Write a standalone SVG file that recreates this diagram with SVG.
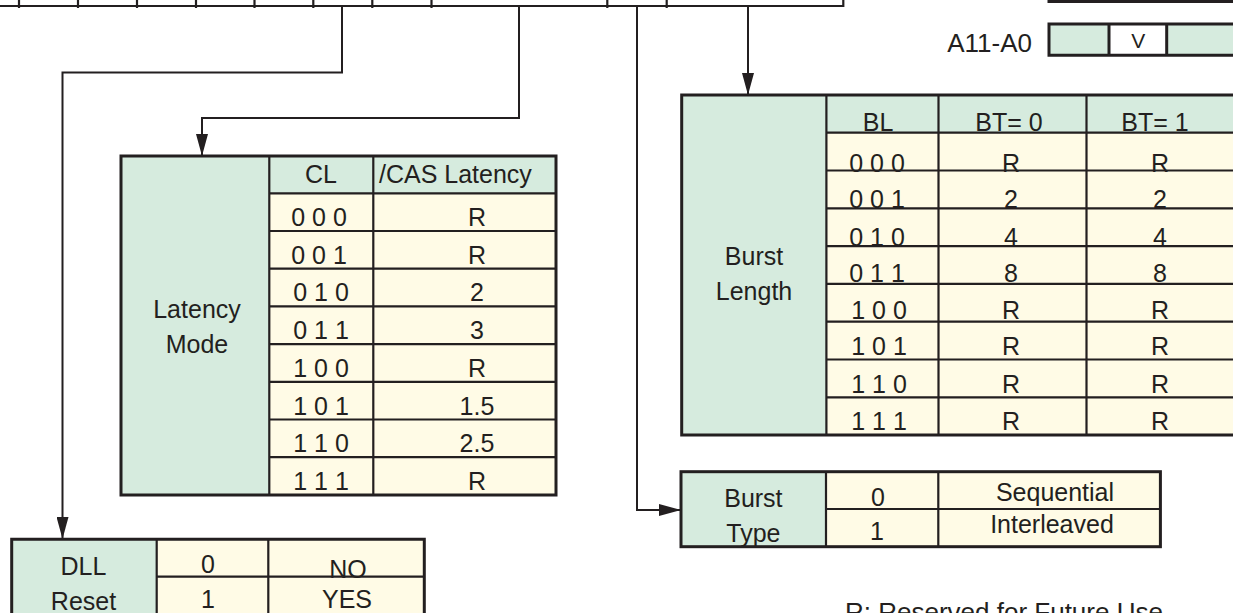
<svg xmlns="http://www.w3.org/2000/svg" width="1233" height="613" viewBox="0 0 1233 613">
<style>
.g{fill:#d6ebde}
.c{fill:#fffbe6}
.w{fill:#ffffff}
.b{fill:none;stroke:#231f20;stroke-width:3}
.l{fill:none;stroke:#231f20;stroke-width:2.2}
.cn{fill:none;stroke:#231f20;stroke-width:2}
text{font-family:"Liberation Sans",Arial,Helvetica,sans-serif;font-size:25px;fill:#231f20}
.m{text-anchor:middle}
</style>
<defs>
<marker id="ah" markerUnits="userSpaceOnUse" markerWidth="22" markerHeight="12" refX="22" refY="6" orient="auto"><path d="M0,0L22,6L0,12z" fill="#231f20"/></marker>
</defs>
<rect x="0" y="0" width="1233" height="613" fill="#ffffff"/>

<g id="register-bar">
<path class="l" d="M0,6H843.3V-3M19,-3V8M78,-3V8M137,-3V8M196,-3V8M254.5,-3V8M313.3,-3V8M372.3,-3V8M431.5,-3V8M607.3,-3V8M666.7,-3V8"/>
</g>

<g id="register-top-right">
<rect class="g" x="1049" y="-30" width="60" height="31.5"/>
<rect class="w" x="1109" y="-30" width="57.7" height="31.5"/>
<rect class="g" x="1166.7" y="-30" width="80" height="31.5"/>
<path class="b" d="M1049,-30V1.5H1250M1109,-30V1.5M1166.7,-30V1.5"/>
</g>

<g id="a11-a0">
<text x="1032" y="52" font-size="26" style="font-size:26px;text-anchor:end">A11-A0</text>
<rect class="g" x="1049" y="24" width="60" height="31.3"/>
<rect class="w" x="1109" y="24" width="57.7" height="31.3"/>
<rect class="g" x="1166.7" y="24" width="80" height="31.3"/>
<path class="b" d="M1250,24H1049V55.3H1250M1109,24V55.3M1166.7,24V55.3"/>
<text class="m" x="1138.3" y="48" style="font-size:21px">V</text>
</g>

<g id="connectors">
<path class="cn" marker-end="url(#ah)" d="M342,6V72.5H62.5V539"/>
<path class="cn" marker-end="url(#ah)" d="M519,6V118H202V156"/>
<path class="cn" marker-end="url(#ah)" d="M637,6V510H681"/>
<path class="cn" marker-end="url(#ah)" d="M748,6V95"/>
</g>

<g id="latency-mode">
<rect class="g" x="121" y="156" width="148.3" height="339"/>
<rect class="g" x="269.3" y="156" width="286.7" height="37.3"/>
<rect class="c" x="269.3" y="193.3" width="286.7" height="301.7"/>
<path class="l" d="M269.3,156V495M373.3,156V495M269.3,193.3H556M269.3,231H556M269.3,268.7H556M269.3,306.4H556M269.3,344.1H556M269.3,381.8H556M269.3,419.5H556M269.3,457.2H556"/>
<rect class="b" x="121" y="156" width="435" height="339"/>
<text class="m" x="197" y="318">Latency</text>
<text class="m" x="197" y="353">Mode</text>
<text class="m" x="321" y="183">CL</text>
<text x="379" y="183">/CAS Latency</text>
<text class="m" x="319" y="226">0 0 0</text><text class="m" x="477" y="226">R</text>
<text class="m" x="319" y="263.7">0 0 1</text><text class="m" x="477" y="263.7">R</text>
<text class="m" x="321" y="301.4">0 1 0</text><text class="m" x="477" y="301.4">2</text>
<text class="m" x="321" y="339.1">0 1 1</text><text class="m" x="477" y="339.1">3</text>
<text class="m" x="321" y="376.8">1 0 0</text><text class="m" x="477" y="376.8">R</text>
<text class="m" x="321" y="414.5">1 0 1</text><text class="m" x="477" y="414.5">1.5</text>
<text class="m" x="321" y="452.2">1 1 0</text><text class="m" x="477" y="452.2">2.5</text>
<text class="m" x="321" y="489.9">1 1 1</text><text class="m" x="477" y="489.9">R</text>
</g>

<g id="burst-length">
<rect class="g" x="681.7" y="95" width="144.7" height="340"/>
<rect class="g" x="826.4" y="95" width="420" height="37.7"/>
<rect class="c" x="826.4" y="132.7" width="420" height="302.3"/>
<path class="l" d="M826.4,95V435M938.5,95V435M1086.5,95V435M826.4,132.7H1250M826.4,170.5H1250M826.4,208.3H1250M826.4,246.1H1250M826.4,283.9H1250M826.4,321.7H1250M826.4,359.5H1250M826.4,397.3H1250"/>
<path class="b" d="M1250,95H681.7V435H1250"/>
<text class="m" x="754" y="265">Burst</text>
<text class="m" x="754" y="300">Length</text>
<text class="m" x="878" y="130.7">BL</text>
<text class="m" x="1009" y="130.7">BT= 0</text>
<text class="m" x="1155" y="130.7">BT= 1</text>
<text class="m" x="877" y="171.5">0 0 0</text><text class="m" x="1011" y="171.5">R</text><text class="m" x="1160" y="171.5">R</text>
<text class="m" x="877" y="208.3">0 0 1</text><text class="m" x="1011" y="208.3">2</text><text class="m" x="1160" y="208.3">2</text>
<text class="m" x="877" y="246">0 1 0</text><text class="m" x="1011" y="246">4</text><text class="m" x="1160" y="246">4</text>
<text class="m" x="877" y="281.7">0 1 1</text><text class="m" x="1011" y="281.7">8</text><text class="m" x="1160" y="281.7">8</text>
<text class="m" x="879" y="319.3">1 0 0</text><text class="m" x="1011" y="319.3">R</text><text class="m" x="1160" y="319.3">R</text>
<text class="m" x="879" y="355">1 0 1</text><text class="m" x="1011" y="355">R</text><text class="m" x="1160" y="355">R</text>
<text class="m" x="879" y="393.3">1 1 0</text><text class="m" x="1011" y="393.3">R</text><text class="m" x="1160" y="393.3">R</text>
<text class="m" x="879" y="430">1 1 1</text><text class="m" x="1011" y="430">R</text><text class="m" x="1160" y="430">R</text>
</g>

<g id="burst-type">
<rect class="g" x="681" y="471.7" width="145" height="75"/>
<rect class="c" x="826" y="471.7" width="334.4" height="75"/>
<path class="l" d="M826,471.7V546.7M938.3,471.7V546.7M826,509H1160.4"/>
<rect class="b" x="681" y="471.7" width="479.4" height="75"/>
<text class="m" x="753.4" y="507.3">Burst</text>
<text class="m" x="753.4" y="541.7">Type</text>
<text class="m" x="878" y="506">0</text>
<text class="m" x="877" y="540">1</text>
<text class="m" x="1055" y="500.7">Sequential</text>
<text class="m" x="1052" y="533.3">Interleaved</text>
</g>

<g id="dll-reset">
<rect class="g" x="11.7" y="539.3" width="145" height="80"/>
<rect class="c" x="156.7" y="539.3" width="267.6" height="80"/>
<path class="l" d="M156.7,539.3V620M268.3,539.3V620M156.7,576.7H424.3"/>
<path class="b" d="M11.7,620V539.3H424.3V620"/>
<text class="m" x="83.5" y="575">DLL</text>
<text class="m" x="83.5" y="610">Reset</text>
<text class="m" x="208" y="573.3">0</text>
<text class="m" x="348" y="578">NO</text>
<text class="m" x="208" y="608">1</text>
<text class="m" x="347" y="608">YES</text>
</g>

<g id="footnote">
<text x="845" y="621" style="font-size:26px">R: Reserved for Future Use</text>
</g>
</svg>
